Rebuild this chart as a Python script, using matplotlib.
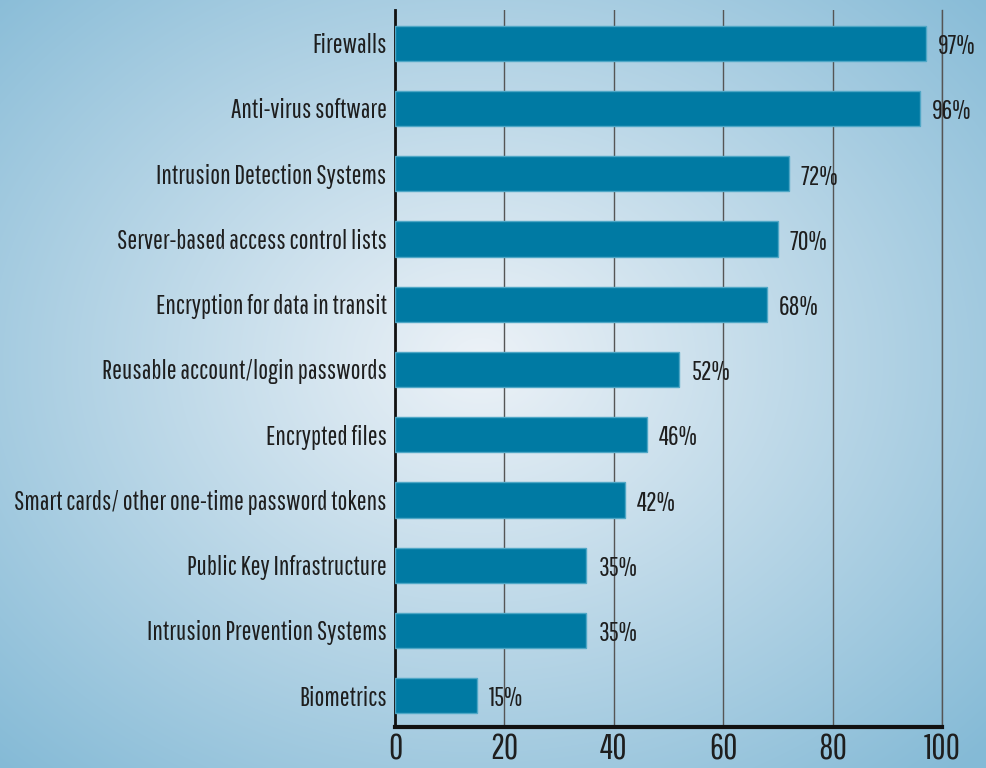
import matplotlib
matplotlib.use("Agg")
import matplotlib.pyplot as plt
import numpy as np

categories = ["Firewalls", "Anti-virus software", "Intrusion Detection Systems",
              "Server-based access control lists", "Encryption for data in transit",
              "Reusable account/login passwords", "Encrypted files",
              "Smart cards/ other one-time password tokens", "Public Key Infrastructure",
              "Intrusion Prevention Systems", "Biometrics"]
values = [97, 96, 72, 70, 68, 52, 46, 42, 35, 35, 15]
xticks = [0, 20, 40, 60, 80, 100]

plt.rcParams['font.family'] = ['Pathway Gothic One', 'Fira Sans Extra Condensed', 'DejaVu Sans']

fig = plt.figure(figsize=(9.87, 7.68), dpi=100)

# radial gradient background
bg = fig.add_axes([0, 0, 1, 1], zorder=-10)
h, w = 768, 987
yy, xx = np.mgrid[0:h, 0:w]
r = np.sqrt(((xx - 480) / 700.0) ** 2 + ((yy - 360) / 560.0) ** 2)
r = np.clip(r, 0, 1)
inner = np.array([0.93, 0.95, 0.97])
outer = np.array([0.52, 0.73, 0.84])
img = inner[None, None, :] * (1 - r[..., None]) + outer[None, None, :] * r[..., None]
bg.imshow(img, aspect='auto', extent=[0, 1, 0, 1])
bg.axis('off')

ax = fig.add_axes([0.4002, 0.0534, 0.5542, 0.9336])
ax.patch.set_alpha(0)
ypos = np.arange(len(categories))
ax.barh(ypos, values, height=0.54, color='#007aa3', edgecolor='#4fa7c6', linewidth=1, zorder=3)
for y, v in zip(ypos, values):
    ax.text(v + 2.2, y + 0.05, f"{v}%", va='center', ha='left', fontsize=19, color='#1e1e1e', zorder=4)

ax.set_xlim(0, 100)
ax.set_ylim(10.48, -0.51)
ax.set_yticks(ypos)
ax.set_yticklabels(categories, fontsize=19, color='#1e1e1e')
ax.set_xticks(xticks)
ax.set_xticklabels([str(t) for t in xticks], fontsize=25, color='#1e1e1e')
ax.tick_params(axis='both', length=0, pad=6)
ax.tick_params(axis='x', pad=4)
ax.xaxis.grid(True, color='#555555', linewidth=1)
ax.set_axisbelow(True)
ax.axvline(100, color='#555555', linewidth=1, zorder=1, clip_on=False)
for s in ['top', 'right']:
    ax.spines[s].set_visible(False)
ax.spines['left'].set_linewidth(2)
ax.spines['bottom'].set_linewidth(3)
ax.spines['left'].set_color('#111111')
ax.spines['bottom'].set_color('#111111')

fig.savefig("out.png", dpi=100)
